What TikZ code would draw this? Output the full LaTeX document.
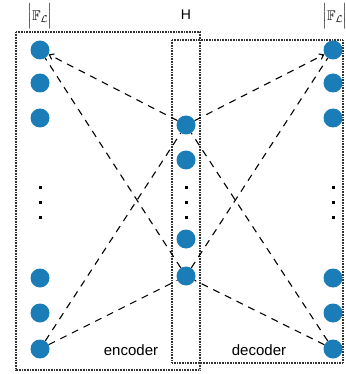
\documentclass[tikz,border=0pt]{standalone}
\usepackage{amssymb}
\usepackage{fontspec}
\setmainfont{Liberation Sans}
\usetikzlibrary{arrows.meta}
\definecolor{nodeblue}{HTML}{1A7DB8}
\newcommand{\setsize}{$\left|\mathbb{F}_{\mathcal{L}}\vrule height 9pt depth 7pt width 0pt\right|$}
\begin{document}
\begin{tikzpicture}[x=1pt,y=-1pt,
  unit/.style={circle,fill=nodeblue,minimum size=19pt,inner sep=0pt},
  vdot/.style={rectangle,fill=black,minimum size=3pt,inner sep=0pt},
  box/.style={draw=black!80,line width=1.1pt,dash pattern=on 0.9pt off 0.7pt},
  link/.style={line width=1.1pt,dash pattern=on 7pt off 6pt},
  tip/.style={-{Straight Barb[length=4pt,width=6pt]}},
  setlbl/.style={inner sep=0pt,font=\fontsize{14}{17}\selectfont},
  lbl/.style={inner sep=0pt,font=\fontsize{15}{18}\selectfont}]
\useasboundingbox (0,0) rectangle (345,374);
\clip (0,0) rectangle (345,374);
% boxes
\draw[box] (16,32) rectangle (200,370);
\draw[box] (172,40) rectangle (343,363);
% columns
\foreach \n/\y in {l1/50,l2/83,l3/118,l4/278,l5/313,l6/349}
  \node[unit] (\n) at (40,\y) {};
\foreach \n/\y in {r1/50,r2/83,r3/118,r4/278,r5/313,r6/349}
  \node[unit] (\n) at (333,\y) {};
\foreach \n/\y in {h1/125,h2/160,h3/239,h4/276}
  \node[unit] (\n) at (186,\y) {};
\foreach \c/\x in {l/40,h/186,r/333}
  \foreach \k/\y in {1/187,2/202,3/217}
    \node[vdot] (d\c\k) at (\x,\y) {};
% labels
\node[setlbl] (fl) at (40,16.5) {\setsize};
\node[setlbl] (fr) at (335,16.5) {\setsize};
\node[inner sep=0pt,font=\fontsize{14}{16}\selectfont] (hl) at (186,15) {H};
\node[lbl] (enc) at (131,350) {encoder};
\node[lbl] (dec) at (259,350) {decoder};
% connectors
\draw[link,tip] (h1) -- (l1);
\draw[link] (h4) -- (l1);
\draw[link] (l6) -- (h1);
\draw[link] (l6) -- (h4);
\draw[link,tip] (h1) -- (r1);
\draw[link] (h4) -- (r1);
\draw[link] (r6) -- (h1);
\draw[link] (r6) -- (h4);
\end{tikzpicture}
\end{document}
